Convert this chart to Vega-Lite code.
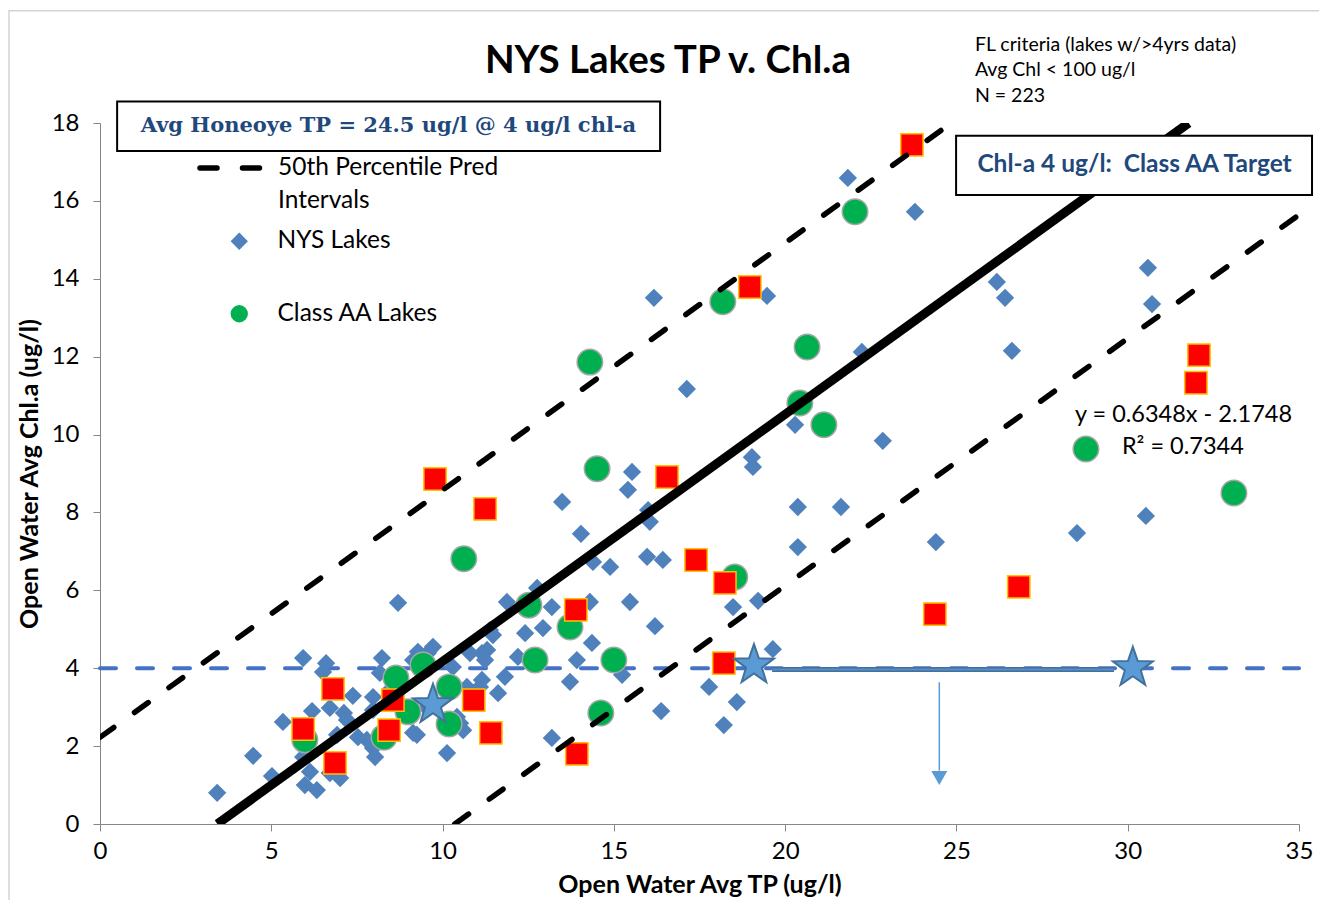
{
  "$schema": "https://vega.github.io/schema/vega-lite/v6.json",
  "width": 1199,
  "height": 701,
  "autosize": {"type": "none"},
  "padding": {"left": 100, "top": 123, "right": 20, "bottom": 76},
  "background": "white",
  "config": {
    "font": "Lato",
    "view": {"stroke": null},
    "axis": {
      "grid": false,
      "domainColor": "#868686",
      "tickColor": "#868686",
      "tickSize": 7,
      "labelFont": "Lato",
      "labelFontSize": 24,
      "labelColor": "black",
      "titleFont": "Lato",
      "titleFontSize": 25,
      "titleFontWeight": "bold",
      "titleColor": "black"
    }
  },
  "datasets": {
    "lakes": [
      {"tp": 3.42, "chla": 0.80, "group": "NYS Lakes"},
      {"tp": 4.47, "chla": 1.75, "group": "NYS Lakes"},
      {"tp": 5.02, "chla": 1.23, "group": "NYS Lakes"},
      {"tp": 5.34, "chla": 2.62, "group": "NYS Lakes"},
      {"tp": 5.93, "chla": 4.26, "group": "NYS Lakes"},
      {"tp": 6.60, "chla": 4.13, "group": "NYS Lakes"},
      {"tp": 6.51, "chla": 3.90, "group": "NYS Lakes"},
      {"tp": 7.38, "chla": 3.29, "group": "NYS Lakes"},
      {"tp": 6.19, "chla": 2.90, "group": "NYS Lakes"},
      {"tp": 6.71, "chla": 2.98, "group": "NYS Lakes"},
      {"tp": 7.12, "chla": 2.85, "group": "NYS Lakes"},
      {"tp": 7.21, "chla": 2.67, "group": "NYS Lakes"},
      {"tp": 6.92, "chla": 2.29, "group": "NYS Lakes"},
      {"tp": 7.53, "chla": 2.23, "group": "NYS Lakes"},
      {"tp": 5.93, "chla": 1.72, "group": "NYS Lakes"},
      {"tp": 6.13, "chla": 1.34, "group": "NYS Lakes"},
      {"tp": 6.71, "chla": 1.31, "group": "NYS Lakes"},
      {"tp": 7.01, "chla": 1.18, "group": "NYS Lakes"},
      {"tp": 5.98, "chla": 1.00, "group": "NYS Lakes"},
      {"tp": 6.33, "chla": 0.87, "group": "NYS Lakes"},
      {"tp": 8.70, "chla": 5.68, "group": "NYS Lakes"},
      {"tp": 7.97, "chla": 3.26, "group": "NYS Lakes"},
      {"tp": 8.23, "chla": 4.26, "group": "NYS Lakes"},
      {"tp": 8.17, "chla": 3.88, "group": "NYS Lakes"},
      {"tp": 9.28, "chla": 4.42, "group": "NYS Lakes"},
      {"tp": 9.72, "chla": 4.55, "group": "NYS Lakes"},
      {"tp": 9.57, "chla": 4.39, "group": "NYS Lakes"},
      {"tp": 9.14, "chla": 4.21, "group": "NYS Lakes"},
      {"tp": 7.79, "chla": 2.16, "group": "NYS Lakes"},
      {"tp": 7.97, "chla": 1.95, "group": "NYS Lakes"},
      {"tp": 8.03, "chla": 1.72, "group": "NYS Lakes"},
      {"tp": 9.25, "chla": 2.29, "group": "NYS Lakes"},
      {"tp": 10.13, "chla": 1.82, "group": "NYS Lakes"},
      {"tp": 10.60, "chla": 2.41, "group": "NYS Lakes"},
      {"tp": 10.42, "chla": 2.75, "group": "NYS Lakes"},
      {"tp": 10.71, "chla": 3.52, "group": "NYS Lakes"},
      {"tp": 11.09, "chla": 3.52, "group": "NYS Lakes"},
      {"tp": 11.62, "chla": 3.36, "group": "NYS Lakes"},
      {"tp": 11.15, "chla": 4.39, "group": "NYS Lakes"},
      {"tp": 11.82, "chla": 3.78, "group": "NYS Lakes"},
      {"tp": 11.88, "chla": 5.70, "group": "NYS Lakes"},
      {"tp": 11.38, "chla": 4.98, "group": "NYS Lakes"},
      {"tp": 10.80, "chla": 4.39, "group": "NYS Lakes"},
      {"tp": 11.30, "chla": 4.47, "group": "NYS Lakes"},
      {"tp": 10.30, "chla": 4.03, "group": "NYS Lakes"},
      {"tp": 11.15, "chla": 3.70, "group": "NYS Lakes"},
      {"tp": 7.97, "chla": 2.93, "group": "NYS Lakes"},
      {"tp": 9.14, "chla": 2.34, "group": "NYS Lakes"},
      {"tp": 10.51, "chla": 2.59, "group": "NYS Lakes"},
      {"tp": 8.46, "chla": 3.44, "group": "NYS Lakes"},
      {"tp": 9.54, "chla": 2.98, "group": "NYS Lakes"},
      {"tp": 12.76, "chla": 6.06, "group": "NYS Lakes"},
      {"tp": 13.19, "chla": 5.57, "group": "NYS Lakes"},
      {"tp": 14.30, "chla": 5.70, "group": "NYS Lakes"},
      {"tp": 12.41, "chla": 4.90, "group": "NYS Lakes"},
      {"tp": 12.93, "chla": 5.03, "group": "NYS Lakes"},
      {"tp": 11.47, "chla": 4.85, "group": "NYS Lakes"},
      {"tp": 14.36, "chla": 4.65, "group": "NYS Lakes"},
      {"tp": 13.92, "chla": 4.21, "group": "NYS Lakes"},
      {"tp": 11.24, "chla": 4.21, "group": "NYS Lakes"},
      {"tp": 12.20, "chla": 4.29, "group": "NYS Lakes"},
      {"tp": 15.24, "chla": 3.83, "group": "NYS Lakes"},
      {"tp": 13.72, "chla": 3.65, "group": "NYS Lakes"},
      {"tp": 13.19, "chla": 2.21, "group": "NYS Lakes"},
      {"tp": 15.47, "chla": 5.70, "group": "NYS Lakes"},
      {"tp": 16.20, "chla": 5.08, "group": "NYS Lakes"},
      {"tp": 16.38, "chla": 2.90, "group": "NYS Lakes"},
      {"tp": 13.49, "chla": 8.27, "group": "NYS Lakes"},
      {"tp": 14.04, "chla": 7.45, "group": "NYS Lakes"},
      {"tp": 14.39, "chla": 6.73, "group": "NYS Lakes"},
      {"tp": 14.89, "chla": 6.60, "group": "NYS Lakes"},
      {"tp": 15.97, "chla": 6.86, "group": "NYS Lakes"},
      {"tp": 16.43, "chla": 6.78, "group": "NYS Lakes"},
      {"tp": 15.53, "chla": 9.04, "group": "NYS Lakes"},
      {"tp": 15.41, "chla": 8.58, "group": "NYS Lakes"},
      {"tp": 16.00, "chla": 8.06, "group": "NYS Lakes"},
      {"tp": 16.05, "chla": 7.76, "group": "NYS Lakes"},
      {"tp": 16.17, "chla": 13.51, "group": "NYS Lakes"},
      {"tp": 17.13, "chla": 11.17, "group": "NYS Lakes"},
      {"tp": 17.78, "chla": 3.52, "group": "NYS Lakes"},
      {"tp": 18.59, "chla": 3.13, "group": "NYS Lakes"},
      {"tp": 18.21, "chla": 2.54, "group": "NYS Lakes"},
      {"tp": 18.48, "chla": 5.57, "group": "NYS Lakes"},
      {"tp": 19.21, "chla": 5.73, "group": "NYS Lakes"},
      {"tp": 19.64, "chla": 4.49, "group": "NYS Lakes"},
      {"tp": 19.03, "chla": 9.42, "group": "NYS Lakes"},
      {"tp": 19.06, "chla": 9.17, "group": "NYS Lakes"},
      {"tp": 20.29, "chla": 10.25, "group": "NYS Lakes"},
      {"tp": 20.37, "chla": 8.14, "group": "NYS Lakes"},
      {"tp": 20.37, "chla": 7.11, "group": "NYS Lakes"},
      {"tp": 21.63, "chla": 8.14, "group": "NYS Lakes"},
      {"tp": 22.24, "chla": 12.12, "group": "NYS Lakes"},
      {"tp": 22.85, "chla": 9.84, "group": "NYS Lakes"},
      {"tp": 21.83, "chla": 16.59, "group": "NYS Lakes"},
      {"tp": 23.79, "chla": 15.72, "group": "NYS Lakes"},
      {"tp": 19.47, "chla": 13.56, "group": "NYS Lakes"},
      {"tp": 24.40, "chla": 7.24, "group": "NYS Lakes"},
      {"tp": 26.18, "chla": 13.92, "group": "NYS Lakes"},
      {"tp": 26.42, "chla": 13.51, "group": "NYS Lakes"},
      {"tp": 26.62, "chla": 12.15, "group": "NYS Lakes"},
      {"tp": 28.52, "chla": 7.47, "group": "NYS Lakes"},
      {"tp": 30.53, "chla": 7.91, "group": "NYS Lakes"},
      {"tp": 30.59, "chla": 14.28, "group": "NYS Lakes"},
      {"tp": 30.71, "chla": 13.35, "group": "NYS Lakes"},
      {"tp": 22.04, "chla": 15.72, "group": "Class AA Lakes"},
      {"tp": 18.18, "chla": 13.41, "group": "Class AA Lakes"},
      {"tp": 20.64, "chla": 12.25, "group": "Class AA Lakes"},
      {"tp": 14.30, "chla": 11.86, "group": "Class AA Lakes"},
      {"tp": 20.43, "chla": 10.81, "group": "Class AA Lakes"},
      {"tp": 21.13, "chla": 10.25, "group": "Class AA Lakes"},
      {"tp": 14.51, "chla": 9.12, "group": "Class AA Lakes"},
      {"tp": 33.10, "chla": 8.50, "group": "Class AA Lakes"},
      {"tp": 10.62, "chla": 6.81, "group": "Class AA Lakes"},
      {"tp": 18.53, "chla": 6.34, "group": "Class AA Lakes"},
      {"tp": 12.52, "chla": 5.62, "group": "Class AA Lakes"},
      {"tp": 13.72, "chla": 5.06, "group": "Class AA Lakes"},
      {"tp": 12.70, "chla": 4.21, "group": "Class AA Lakes"},
      {"tp": 15.00, "chla": 4.21, "group": "Class AA Lakes"},
      {"tp": 14.62, "chla": 2.85, "group": "Class AA Lakes"},
      {"tp": 8.64, "chla": 3.75, "group": "Class AA Lakes"},
      {"tp": 9.43, "chla": 4.08, "group": "Class AA Lakes"},
      {"tp": 10.19, "chla": 3.52, "group": "Class AA Lakes"},
      {"tp": 8.99, "chla": 2.88, "group": "Class AA Lakes"},
      {"tp": 10.19, "chla": 2.57, "group": "Class AA Lakes"},
      {"tp": 8.29, "chla": 2.23, "group": "Class AA Lakes"},
      {"tp": 5.98, "chla": 2.16, "group": "Class AA Lakes"},
      {"tp": 28.78, "chla": 9.63, "group": "Class AA Lakes"},
      {"tp": 23.70, "chla": 17.44, "group": "Highlighted Lakes"},
      {"tp": 18.97, "chla": 13.79, "group": "Highlighted Lakes"},
      {"tp": 32.08, "chla": 12.04, "group": "Highlighted Lakes"},
      {"tp": 31.99, "chla": 11.33, "group": "Highlighted Lakes"},
      {"tp": 9.78, "chla": 8.86, "group": "Highlighted Lakes"},
      {"tp": 11.24, "chla": 8.09, "group": "Highlighted Lakes"},
      {"tp": 16.55, "chla": 8.91, "group": "Highlighted Lakes"},
      {"tp": 17.40, "chla": 6.78, "group": "Highlighted Lakes"},
      {"tp": 18.24, "chla": 6.19, "group": "Highlighted Lakes"},
      {"tp": 13.89, "chla": 5.50, "group": "Highlighted Lakes"},
      {"tp": 26.82, "chla": 6.09, "group": "Highlighted Lakes"},
      {"tp": 24.37, "chla": 5.39, "group": "Highlighted Lakes"},
      {"tp": 18.21, "chla": 4.13, "group": "Highlighted Lakes"},
      {"tp": 6.80, "chla": 3.47, "group": "Highlighted Lakes"},
      {"tp": 8.55, "chla": 3.18, "group": "Highlighted Lakes"},
      {"tp": 10.91, "chla": 3.18, "group": "Highlighted Lakes"},
      {"tp": 5.93, "chla": 2.44, "group": "Highlighted Lakes"},
      {"tp": 8.44, "chla": 2.41, "group": "Highlighted Lakes"},
      {"tp": 11.41, "chla": 2.34, "group": "Highlighted Lakes"},
      {"tp": 6.86, "chla": 1.57, "group": "Highlighted Lakes"},
      {"tp": 13.92, "chla": 1.80, "group": "Highlighted Lakes"}
    ],
    "stars": [
      {"tp": 9.72, "chla": 3.06, "point": "Honeoye current"},
      {"tp": 19.09, "chla": 4.08, "point": "Regression at 4 ug/l"},
      {"tp": 30.15, "chla": 4.01, "point": "Lower interval at 4 ug/l"}
    ],
    "lines": [
      {"line": "Regression", "tp": 3.426, "chla": 0},
      {"line": "Regression", "tp": 31.78, "chla": 18},
      {"line": "Upper interval", "band": "50th Percentile Pred Intervals", "tp": 0, "chla": 2.225},
      {"line": "Upper interval", "band": "50th Percentile Pred Intervals", "tp": 24.85, "chla": 18},
      {"line": "Lower interval", "band": "50th Percentile Pred Intervals", "tp": 10.357, "chla": 0},
      {"line": "Lower interval", "band": "50th Percentile Pred Intervals", "tp": 35, "chla": 15.643}
    ],
    "guides": [
      {"guide": "target", "tp": 0, "tp2": 35, "chla": 4},
      {"guide": "connector", "tp": 19.62, "tp2": 29.6, "chla": 3.97},
      {"guide": "arrow", "tp": 24.5, "chla": 3.64, "chla2": 1.37},
      {"guide": "arrowhead", "tp": 24.5, "chla": 1.18}
    ],
    "boxes": [
      {"box": "honeoye", "tp": 0.5, "tp2": 16.35, "chla": 17.28, "chla2": 18.55},
      {"box": "target", "tp": 24.99, "tp2": 35.38, "chla": 16.15, "chla2": 17.67}
    ],
    "frame": [
      {"frame": "chart area", "tp": -2.656, "tp2": 36.2, "chla": -2.4, "chla2": 20.88}
    ],
    "notes": [
      {"kind": "title", "note": "NYS Lakes TP v. Chl.a", "tp": 16.58, "chla": 19.6},
      {"kind": "honeoye", "note": "Avg Honeoye TP = 24.5 ug/l @ 4 ug/l chl-a", "tp": 8.42, "chla": 17.93},
      {"kind": "target", "note": "Chl-a 4 ug/l:\u00a0 Class AA Target", "tp": 30.2, "chla": 16.92},
      {"kind": "criteria", "note": "FL criteria (lakes w/>4yrs data)", "tp": 25.54, "chla": 20.01},
      {"kind": "criteria", "note": "Avg Chl < 100 ug/l", "tp": 25.54, "chla": 19.36},
      {"kind": "criteria", "note": "N = 223", "tp": 25.54, "chla": 18.70},
      {"kind": "equation", "note": "y = 0.6348x - 2.1748", "tp": 28.46, "chla": 10.50},
      {"kind": "equation", "note": "R\u00b2 = 0.7344", "tp": 29.83, "chla": 9.68}
    ]
  },
  "encoding": {
    "x": {
      "field": "tp",
      "type": "quantitative",
      "scale": {"domain": [0, 35], "nice": false, "zero": false},
      "axis": {
        "title": "Open Water Avg TP (ug/l)",
        "values": [0, 5, 10, 15, 20, 25, 30, 35],
        "labelPadding": 8,
        "titlePadding": 9,
        "labelFlush": false,
        "labelOverlap": false
      }
    },
    "y": {
      "field": "chla",
      "type": "quantitative",
      "scale": {"domain": [0, 18], "nice": false, "zero": false},
      "axis": {
        "title": "Open Water Avg Chl.a (ug/l)",
        "values": [0, 2, 4, 6, 8, 10, 12, 14, 16, 18],
        "labelPadding": 14,
        "titlePadding": 9,
        "labelFlush": false,
        "labelOverlap": false
      }
    }
  },
  "layer": [
    {
      "data": {"name": "frame"},
      "mark": {"type": "rect", "fill": null, "fillOpacity": 0, "stroke": "#D4D4D4", "strokeWidth": 1.5},
      "encoding": {"x2": {"field": "tp2"}, "y2": {"field": "chla2"}}
    },
    {
      "data": {"name": "guides"},
      "transform": [{"filter": "datum.guide == 'target'"}],
      "mark": {"type": "rule", "color": "#4472C4", "strokeWidth": 4, "strokeDash": [16, 21], "strokeCap": "round"},
      "encoding": {"x2": {"field": "tp2"}}
    },
    {
      "data": {"name": "lakes"},
      "transform": [{"filter": "datum.group == 'NYS Lakes'"}],
      "mark": {"type": "point", "filled": true, "opacity": 1, "size": 335, "strokeWidth": 0},
      "encoding": {
        "shape": {
          "field": "group", "type": "nominal",
          "scale": {"domain": ["NYS Lakes", "Class AA Lakes"], "range": ["diamond", "circle"]},
          "legend": {"title": null, "orient": "none", "legendX": 127, "legendY": 106, "symbolSize": 300, "labelFont": "Lato", "labelFontSize": 24.5, "labelColor": "black", "labelOffset": 26, "labelLimit": 400, "rowPadding": 47.5, "padding": 0, "symbolStrokeWidth": 0}
        },
        "color": {
          "field": "group", "type": "nominal",
          "scale": {"domain": ["NYS Lakes", "Class AA Lakes"], "range": ["#4F81BD", "#00B050"]},
          "legend": {"title": null, "orient": "none", "legendX": 127, "legendY": 106, "symbolSize": 300, "labelFont": "Lato", "labelFontSize": 24.5, "labelColor": "black", "labelOffset": 26, "labelLimit": 400, "rowPadding": 47.5, "padding": 0, "symbolStrokeWidth": 0}
        }
      }
    },
    {
      "data": {"name": "lakes"},
      "transform": [{"filter": "datum.group == 'Class AA Lakes'"}],
      "mark": {"type": "point", "filled": true, "opacity": 1, "size": 650, "stroke": "#A6A6A6", "strokeWidth": 1.5},
      "encoding": {
        "shape": {"field": "group", "type": "nominal"},
        "color": {"field": "group", "type": "nominal"}
      }
    },
    {
      "data": {"name": "lakes"},
      "transform": [{"filter": "datum.group == 'Highlighted Lakes'"}],
      "mark": {"type": "point", "shape": "square", "filled": true, "opacity": 1, "size": 500, "fill": "#FF0000", "stroke": "#FFC000", "strokeWidth": 1.5}
    },
    {
      "data": {"name": "lines"},
      "transform": [{"filter": "datum.line == 'Regression'"}],
      "mark": {"type": "line", "color": "black", "strokeWidth": 9, "clip": true}
    },
    {
      "data": {"name": "lines"},
      "transform": [{"filter": "datum.line != 'Regression'"}],
      "mark": {"type": "line", "color": "black", "strokeWidth": 5.5, "strokeCap": "round", "clip": true},
      "encoding": {
        "detail": {"field": "line"},
        "strokeDash": {
          "field": "band", "type": "nominal",
          "scale": {"domain": ["50th Percentile Pred Intervals"], "range": [[17, 25.5]]},
          "legend": {
            "title": null, "orient": "none", "legendX": 97, "legendY": 7,
            "symbolType": "stroke", "symbolSize": 4900, "symbolStrokeWidth": 5.5, "symbolStrokeColor": "black",
            "labelFont": "Lato", "labelFontSize": 24.5, "labelColor": "black", "labelOffset": 5, "labelLimit": 400,
            "padding": 0,
            "labelExpr": "['50th Percentile Pred', 'Intervals']",
            "encode": {
              "labels": {"update": {"lineHeight": {"value": 33}}},
              "symbols": {"update": {"strokeDash": {"value": [20, 27]}, "strokeCap": {"value": "round"}}}
            }
          }
        }
      }
    },
    {
      "data": {"name": "stars"},
      "mark": {
        "type": "point", "filled": true, "opacity": 1, "size": 1760,
        "shape": "M0,-1L0.235,-0.324L0.951,-0.309L0.38,0.124L0.588,0.809L0,0.4L-0.588,0.809L-0.38,0.124L-0.951,-0.309L-0.235,-0.324Z",
        "fill": "#5B9BD5", "stroke": "#41719C", "strokeWidth": 2
      }
    },
    {
      "data": {"name": "guides"},
      "transform": [{"filter": "datum.guide == 'connector'"}],
      "mark": {"type": "rule", "color": "#41719C", "strokeWidth": 5},
      "encoding": {"x2": {"field": "tp2"}}
    },
    {
      "data": {"name": "guides"},
      "transform": [{"filter": "datum.guide == 'connector'"}],
      "mark": {"type": "rule", "color": "#5B8CC8", "strokeWidth": 2},
      "encoding": {"x2": {"field": "tp2"}}
    },
    {
      "data": {"name": "guides"},
      "transform": [{"filter": "datum.guide == 'arrow'"}],
      "mark": {"type": "rule", "color": "#5B9BD5", "strokeWidth": 1.5},
      "encoding": {"y2": {"field": "chla2"}}
    },
    {
      "data": {"name": "guides"},
      "transform": [{"filter": "datum.guide == 'arrowhead'"}],
      "mark": {"type": "point", "shape": "triangle-down", "filled": true, "opacity": 1, "size": 256, "fill": "#5B9BD5", "strokeWidth": 0}
    },
    {
      "data": {"name": "boxes"},
      "mark": {"type": "rect", "fill": "white", "stroke": "black", "strokeWidth": 2},
      "encoding": {"x2": {"field": "tp2"}, "y2": {"field": "chla2"}}
    },
    {
      "data": {"name": "notes"},
      "transform": [{"filter": "datum.kind == 'title'"}],
      "mark": {"type": "text", "font": "Lato", "fontSize": 38.5, "fontWeight": "bold", "color": "black", "align": "center", "baseline": "middle"},
      "encoding": {"text": {"field": "note"}}
    },
    {
      "data": {"name": "notes"},
      "transform": [{"filter": "datum.kind == 'honeoye'"}],
      "mark": {"type": "text", "font": "DejaVu Serif", "fontSize": 21, "fontWeight": "bold", "color": "#1F497D", "align": "center", "baseline": "middle"},
      "encoding": {"text": {"field": "note"}}
    },
    {
      "data": {"name": "notes"},
      "transform": [{"filter": "datum.kind == 'target'"}],
      "mark": {"type": "text", "font": "Lato", "fontSize": 24.5, "fontWeight": "bold", "color": "#1F497D", "align": "center", "baseline": "middle"},
      "encoding": {"text": {"field": "note"}}
    },
    {
      "data": {"name": "notes"},
      "transform": [{"filter": "datum.kind == 'criteria'"}],
      "mark": {"type": "text", "font": "Lato", "fontSize": 19.5, "color": "black", "align": "left", "baseline": "middle"},
      "encoding": {"text": {"field": "note"}}
    },
    {
      "data": {"name": "notes"},
      "transform": [{"filter": "datum.kind == 'equation'"}],
      "mark": {"type": "text", "font": "Lato", "fontSize": 23.5, "color": "black", "align": "left", "baseline": "middle"},
      "encoding": {"text": {"field": "note"}}
    }
  ]
}
